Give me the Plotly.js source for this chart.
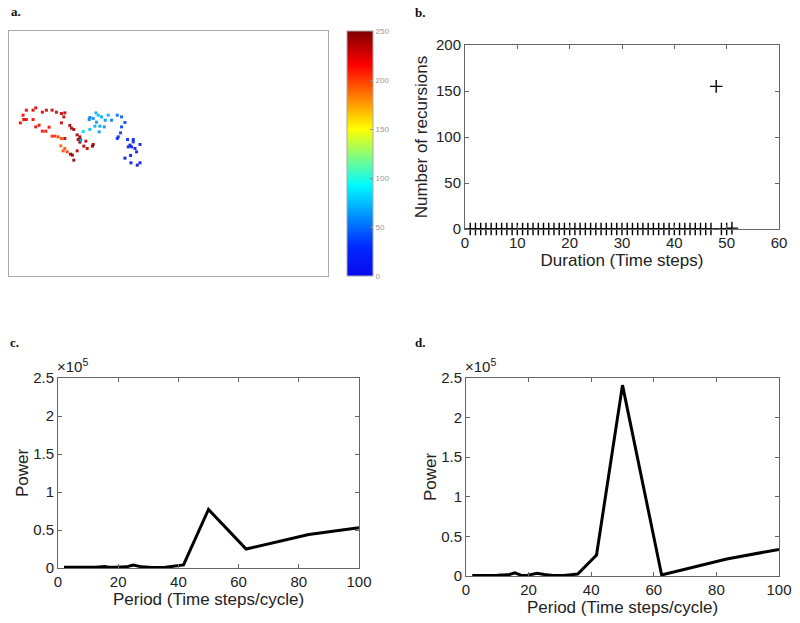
<!DOCTYPE html>
<html>
<head>
<meta charset="utf-8">
<script src="https://cdn.plot.ly/plotly-3.0.1.min.js"></script>
<style>html,body{margin:0;padding:0;background:#fff;}#chart{width:800px;height:623px;}</style>
</head>
<body>
<div id="chart"></div>
<script>
// Panel a: trajectory points (grid position) coloured by time step
const aX = [11.3,14,14.7,17.3,24,17.3,24,26.7,33.3,37.3,43,47.3,52.3,55.7,54.7,52.3,30,26.7,40,33.3,36.7,60.7,62.3,64.7,43,45.7,49,52.3,55.7,68,70.7,71.3,76.7,84,83.3,74.7,78,51.7,55.7,54,58,61.3,63.3,68,64.7,69,70.7,
  71.7,74,80.7,85.7,90,90.7,87.3,80.7,80,84,86.7,89,92.3,99,96,95,102.3,108,112.3,115.7,112.3,111.3,109,108,118.3,124,124,120.7,119,122.3,130.7,125.7,127.3,121.3,115.7,121.7,128,130.7];
const aY = [153.3,161,156.7,156.7,156.7,166,166,168.3,164,166,166,164,162.7,163.3,159.3,153.3,151,149.3,149,145,145,150.7,148,146.7,140,140,139.3,137.7,137.7,141.3,139.3,136.7,135,131.7,130,130,127.7,130.3,127.7,125.3,124.3,122,121,125.3,116,136.7,134,
  136,144.7,146.7,150,144.3,150,154,158.7,156.7,157.7,163.3,161,159.3,161,156,149.3,156,161,159.3,153.7,149.3,143.3,139.3,137.7,136.7,136.7,134.3,131,129.3,129.3,131.7,127.7,124.3,120.7,118,113.3,111,113.3];
const aT = [215,215,220,220,215,220,222,225,225,228,228,230,232,232,230,228,218,218,215,212,212,235,238,240,205,205,200,198,240,240,245,245,235,245,245,240,235,190,192,195,200,245,248,235,248,242,248,
  70,80,75,70,65,65,62,55,55,60,70,72,68,70,60,60,55,50,45,40,38,35,32,30,25,22,20,18,15,15,12,12,10,8,6,5,2,4];

// Panel b: number of recursions vs duration
const bX = [1,2,3,4,5,6,7,8,9,10,11,12,13,14,15,16,17,18,19,20,21,22,23,24,25,26,27,28,29,30,31,32,33,34,35,36,37,38,39,40,41,42,43,44,45,46,47,48,49,50,51];
const bY = [0,0,0,0,0,0,0,0,0,0,0,0,0,0,0,0,0,0,0,0,0,0,0,0,0,0,0,0,0,0,0,0,0,0,0,0,0,0,0,0,0,0,0,0,0,0,0,155,0,0,1];

// Panel c: power spectrum (x10^5)
const cX = [2,5,8,10,12.5,15.6,16.7,19.2,20.8,22.7,25,27.8,31.3,35.7,41.7,50,62.5,83.3,100];
const cY = [0.01,0.01,0.01,0.015,0.01,0.02,0.01,0.01,0.01,0.015,0.04,0.015,0.005,0.01,0.04,0.77,0.25,0.44,0.53];

// Panel d: power spectrum (x10^5)
const dX = [2,5,8,10,12.5,13.9,15.6,16.7,17.9,19.2,20.8,22.7,25,27.8,31.3,35.7,41.7,50,62.5,83.3,100];
const dY = [0.005,0.005,0.01,0.01,0.015,0.02,0.04,0.02,0.005,0.005,0.02,0.035,0.02,0.005,0.005,0.025,0.265,2.41,0.013,0.215,0.336];

const cbTicks = [0,50,100,150,200,250];
const font = 'Liberation Sans, Arial, sans-serif';
const txt = '#222';

const jet = [[0,'rgb(10,10,235)'],[0.12,'rgb(0,40,255)'],[0.37,'rgb(0,250,255)'],[0.6,'rgb(255,255,0)'],[0.86,'rgb(255,0,0)'],[1,'rgb(128,0,0)']];

const traces = [
  {type:'scatter', mode:'markers', x:aX, y:aY, xaxis:'x', yaxis:'y',
   marker:{symbol:'square', size:3, opacity:0.9, color:aT, cmin:0, cmax:250, colorscale:jet,
     colorbar:{x:347/800, xanchor:'left', xpad:0, ypad:0, thickness:26, thicknessmode:'pixels',
       len:245/623, lenmode:'fraction', y:1-153.5/623, yanchor:'middle',
       outlinewidth:1, outlinecolor:'#aaa', tickvals:cbTicks, ticks:'inside', ticklen:3,
       tickcolor:'#888', tickfont:{family:font, size:8, color:'#999'}}},
   showlegend:false, hoverinfo:'skip'},
  {type:'scatter', mode:'markers', x:bX, y:bY, xaxis:'x2', yaxis:'y2',
   marker:{symbol:'cross-thin-open', size:9, color:'#000', line:{color:'#000', width:1.4}},
   showlegend:false, cliponaxis:false},
  {type:'scatter', mode:'lines', x:cX, y:cY, xaxis:'x3', yaxis:'y3',
   line:{color:'#000', width:3}, showlegend:false},
  {type:'scatter', mode:'lines', x:dX, y:dY, xaxis:'x4', yaxis:'y4',
   line:{color:'#000', width:3}, showlegend:false}
];

const titleFont = {family:font, size:17, color:txt};
function ax(domain, range, dtick, extra) {
  return Object.assign({domain:domain, range:range, dtick:dtick, tick0:0, showgrid:false, zeroline:false,
    showline:true, linecolor:'#666', linewidth:1, mirror:'ticks', ticks:'inside', ticklen:4,
    tickcolor:'#666', tickfont:{family:font, size:15, color:txt}, fixedrange:true}, extra||{});
}

const layout = {
  width:800, height:623, margin:{l:0,r:0,t:0,b:0}, paper_bgcolor:'#fff', plot_bgcolor:'#fff',
  font:{family:font, color:txt},
  xaxis: {domain:[9/800,328/800], range:[0,318.3], showgrid:false, zeroline:false, showticklabels:false,
    showline:true, mirror:true, linecolor:'#aaa', ticks:'', fixedrange:true},
  yaxis: {domain:[1-276/623,1-31/623], range:[0,245.3], showgrid:false, zeroline:false, showticklabels:false,
    showline:true, mirror:true, linecolor:'#aaa', ticks:'', fixedrange:true},
  xaxis2: ax([465/800,779/800],[0,60],10,{anchor:'y2', title:{text:'Duration (Time steps)', font:titleFont, standoff:0}}),
  yaxis2: ax([1-229/623,1-45/623],[0,200],50,{anchor:'x2', title:{text:'Number of recursions', font:titleFont, standoff:4}}),
  xaxis3: ax([58/800,359/800],[0,100],20,{anchor:'y3', title:{text:'Period (Time steps/cycle)', font:titleFont, standoff:0}}),
  yaxis3: ax([1-568/623,1-378/623],[0,2.5],0.5,{anchor:'x3', title:{text:'Power', font:titleFont, standoff:0}}),
  xaxis4: ax([466/800,779/800],[0,100],20,{anchor:'y4', title:{text:'Period (Time steps/cycle)', font:titleFont, standoff:0}}),
  yaxis4: ax([1-576/623,1-378/623],[0,2.5],0.5,{anchor:'x4', title:{text:'Power', font:titleFont, standoff:0}}),
  annotations: [
    {text:'<b>a.</b>', x:9/800, y:1-12/623, xref:'paper', yref:'paper', xanchor:'left', yanchor:'middle', showarrow:false, font:{family:'Liberation Serif, Times New Roman, serif', size:13, color:'#111'}},
    {text:'<b>b.</b>', x:413/800, y:1-13/623, xref:'paper', yref:'paper', xanchor:'left', yanchor:'middle', showarrow:false, font:{family:'Liberation Serif, Times New Roman, serif', size:13, color:'#111'}},
    {text:'<b>c.</b>', x:8/800, y:1-342/623, xref:'paper', yref:'paper', xanchor:'left', yanchor:'middle', showarrow:false, font:{family:'Liberation Serif, Times New Roman, serif', size:13, color:'#111'}},
    {text:'<b>d.</b>', x:413/800, y:1-342/623, xref:'paper', yref:'paper', xanchor:'left', yanchor:'middle', showarrow:false, font:{family:'Liberation Serif, Times New Roman, serif', size:13, color:'#111'}},
    {text:'×10<sup>5</sup>', x:55/800, y:1-377/623, xref:'paper', yref:'paper', xanchor:'left', yanchor:'bottom', showarrow:false, font:{family:font, size:15, color:txt}},
    {text:'×10<sup>5</sup>', x:463/800, y:1-377/623, xref:'paper', yref:'paper', xanchor:'left', yanchor:'bottom', showarrow:false, font:{family:font, size:15, color:txt}}
  ]
};

Plotly.newPlot('chart', traces, layout, {displayModeBar:false, staticPlot:true});
</script>
</body>
</html>
